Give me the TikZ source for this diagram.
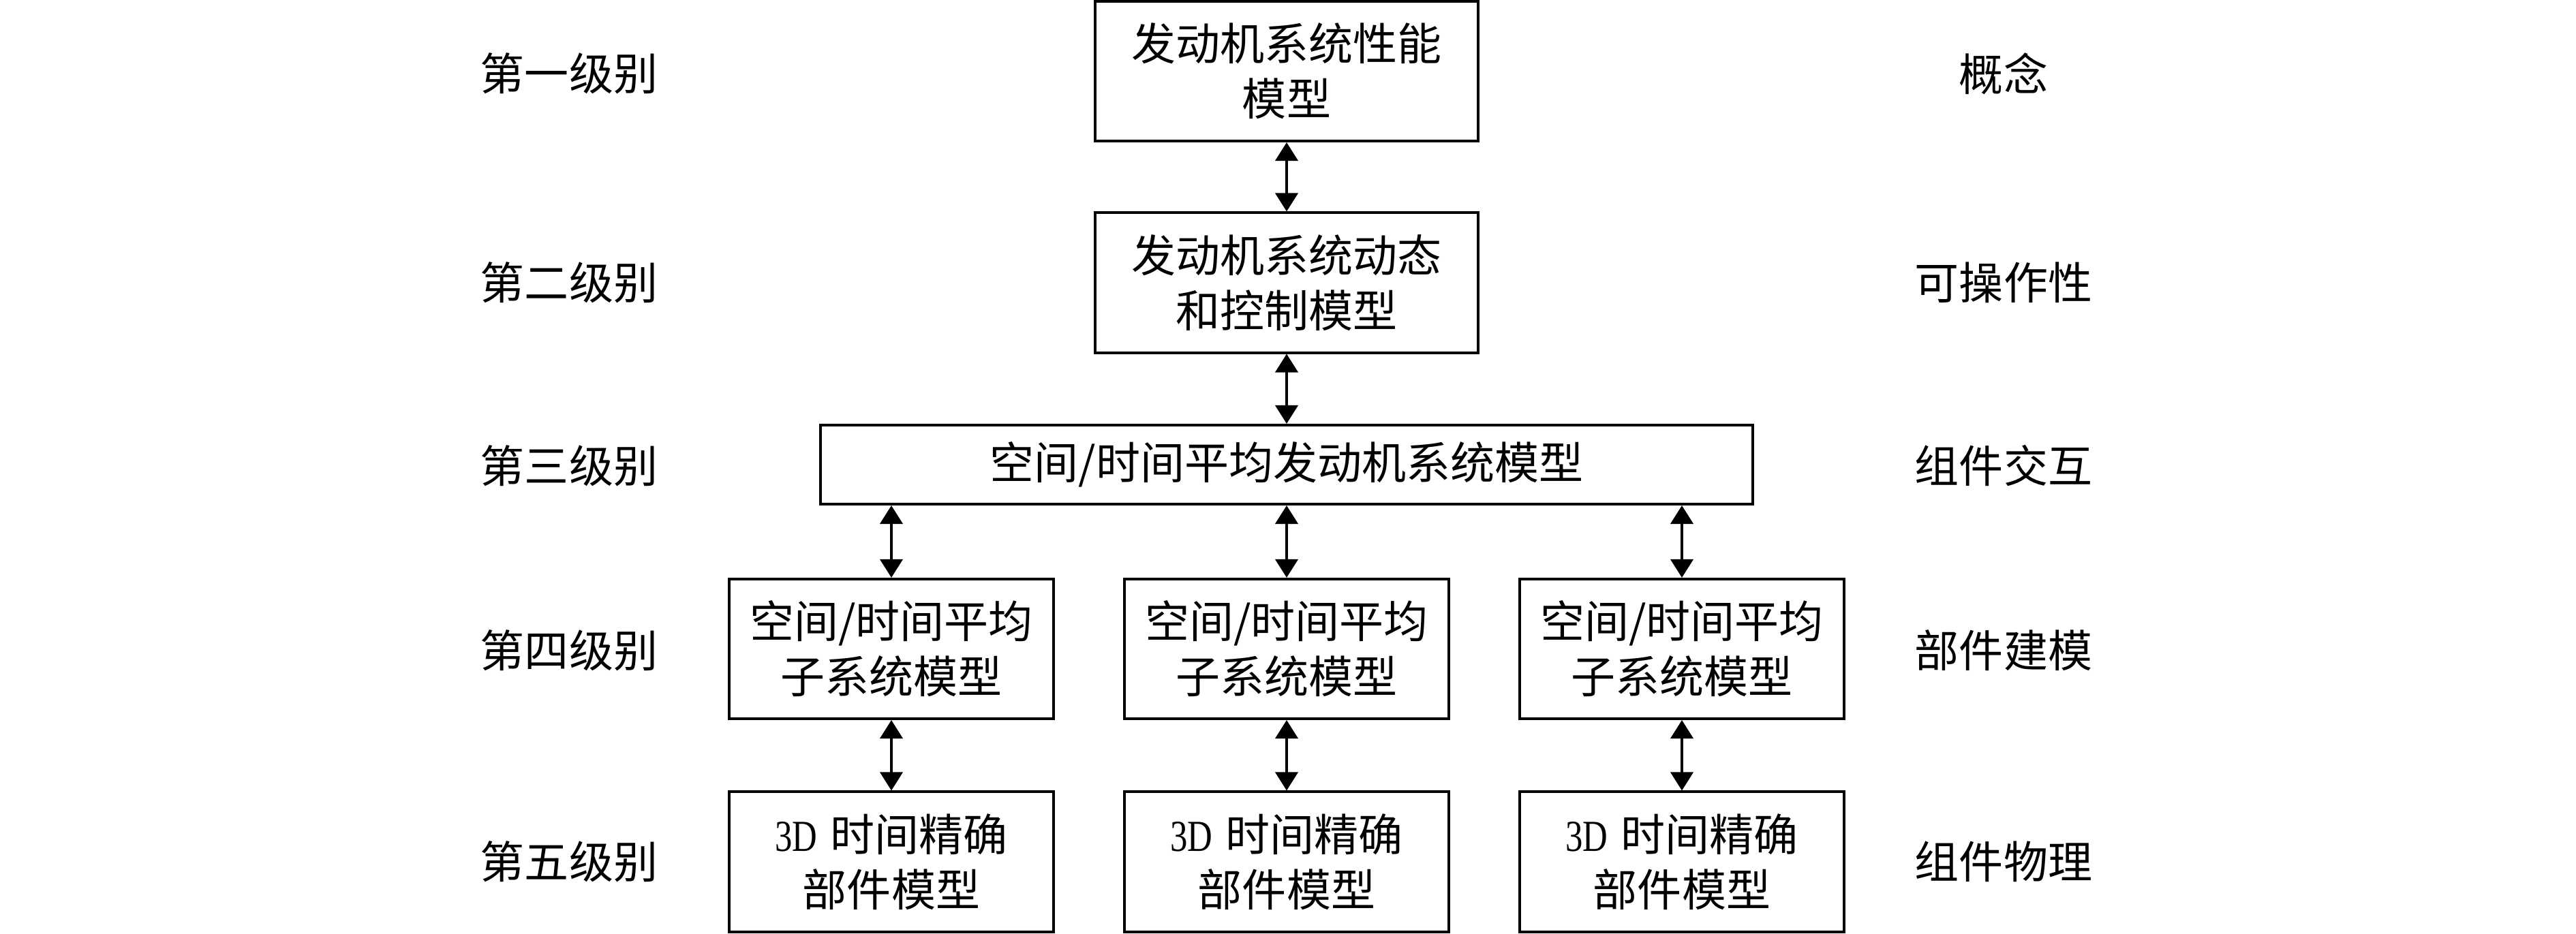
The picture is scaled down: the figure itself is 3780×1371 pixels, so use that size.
\documentclass[tikz,border=0pt]{standalone}
\usepackage{graphicx}
\usepackage{fontspec}
\setmainfont{Liberation Serif}
\newfontfamily\cjk{Noto Sans CJK SC}
\usepackage{tikz}
\usetikzlibrary{arrows.meta}
\tikzset{
BOX/.style ={draw=black,line width=0.4mm,inner sep=0pt,align=center,minimum width=4.76cm,minimum height=2.05cm,font=\cjk\fontsize{18.5pt}{23pt}\selectfont},
LINK/.style ={draw=black,line width=0.4mm,{Triangle[width=3.3mm,length=2.7mm]}-{Triangle[width=3.3mm,length=2.7mm]}},
LEVEL/.style={inner sep=0pt,font=\cjk\fontsize{18.5pt}{23pt}\selectfont},
}
\newcommand{\ThreeD}{{\rmfamily\scalebox{0.78}[1]{3D}}\hspace{0.3em}}

\begin{document}
\begin{tikzpicture} [x=0.01cm, y=-0.01cm] %five levels of engine models
	\useasboundingbox (0,0) rectangle (3780,1371);
	\node[BOX,minimum width=5.62cm] (perf) at (1888,104.5) {发动机系统性能\\模型};
	\node[BOX,minimum width=5.62cm] (dyn) at (1888,415) {发动机系统动态\\和控制模型};
	\node[BOX,minimum width=13.68cm,minimum height=1.16cm] (avg) at (1888,682) {空间/时间平均发动机系统模型};
	\node[BOX] (subA) at (1308,952.5) {空间/时间平均\\子系统模型};
	\node[BOX] (subB) at (1888,952.5) {空间/时间平均\\子系统模型};
	\node[BOX] (subC) at (2468,952.5) {空间/时间平均\\子系统模型};
	\node[BOX] (compA) at (1308,1265) {\ThreeD 时间精确\\部件模型};
	\node[BOX] (compB) at (1888,1265) {\ThreeD 时间精确\\部件模型};
	\node[BOX] (compC) at (2468,1265) {\ThreeD 时间精确\\部件模型};
	% level names, left
	\node[LEVEL] (lvlA) at (835,108) {第一级别};
	\node[LEVEL] (lvlB) at (835,415) {第二级别};
	\node[LEVEL] (lvlC) at (835,684) {第三级别};
	\node[LEVEL] (lvlD) at (835,955) {第四级别};
	\node[LEVEL] (lvlE) at (835,1265) {第五级别};
	% level tags, right
	\node[LEVEL] (tagA) at (2940,108) {概念};
	\node[LEVEL] (tagB) at (2940,415) {可操作性};
	\node[LEVEL] (tagC) at (2940,684) {组件交互};
	\node[LEVEL] (tagD) at (2940,955) {部件建模};
	\node[LEVEL] (tagE) at (2940,1265) {组件物理};
	% links
	\path[LINK] (perf) -- (dyn);
	\path[LINK] (dyn) -- (avg);
	\path[LINK] (avg.south -| subA) -- (subA);
	\path[LINK] (avg.south -| subB) -- (subB);
	\path[LINK] (avg.south -| subC) -- (subC);
	\path[LINK] (subA) -- (compA);
	\path[LINK] (subB) -- (compB);
	\path[LINK] (subC) -- (compC);
\end{tikzpicture}
\end{document}
